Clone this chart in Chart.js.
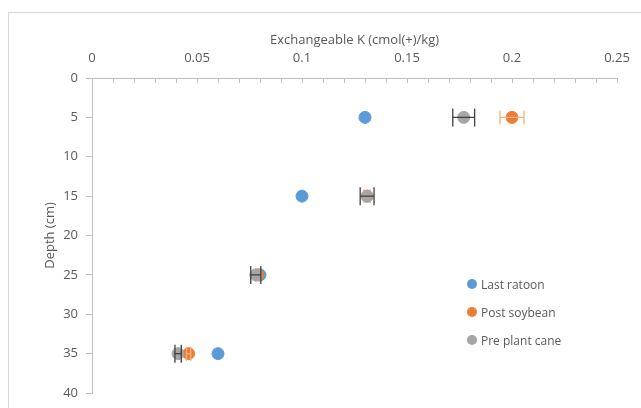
<!DOCTYPE html>
<html>
<head>
<meta charset="utf-8">
<script src="https://cdn.jsdelivr.net/npm/chart.js@4/dist/chart.umd.min.js"></script>
<style>
  html, body { margin: 0; padding: 0; background: #fff; overflow: hidden; }
  #wrap { position: relative; width: 641px; height: 408px; }
  #frame { position: absolute; left: 8px; top: 12px; width: 700px; height: 500px; border: 1px solid #d9d9d9; }
  #chart { position: absolute; left: 0; top: 0; }
  #legend { position: absolute; left: 467px; top: 274px; font: 12px "Open Sans", sans-serif; color: #595959; }
  #legend div { display: flex; align-items: center; height: 20px; margin-bottom: 8px; }
  #legend span.dot { display: inline-block; width: 10px; height: 10px; border-radius: 50%; margin-right: 4px; }
</style>
</head>
<body>
<div id="wrap">
  <div id="frame"></div>
  <canvas id="chart" width="641" height="408"></canvas>
  <div id="legend"></div>
</div>
<script>
// depth of each sample (cm)
const depths = [5, 15, 25, 35];

// exchangeable K, cmol(+)/kg
const lastRatoon = [0.130, 0.100, 0.080, 0.060];
const postSoybean = [0.200, 0.131, 0.079, 0.046];
const prePlantCane = [0.177, 0.131, 0.078, 0.041];

// horizontal error (+/-)
const postSoybeanErr = [0.0057, 0.0015, 0.001, 0.001];
const prePlantCaneErr = [0.0052, 0.0033, 0.0024, 0.0015];

const xMajorTicks = [0, 0.05, 0.1, 0.15, 0.2, 0.25];
const xTickLabels = ["0", "0.05", "0.1", "0.15", "0.2", "0.25"];
const yTicks = [0, 5, 10, 15, 20, 25, 30, 35, 40];

const toPoints = (vals) => vals.map((v, i) => ({ x: v, y: depths[i] }));

const font = { family: "'Open Sans', sans-serif", size: 13 };
const textColor = "#595959";
const axisColor = "#bfbfbf";

// draws the horizontal error bars for a dataset right after its markers
const errorBars = {
  id: "errorBars",
  afterDatasetDraw(chart, args) {
    const ds = chart.data.datasets[args.index];
    if (!ds.errors) return;
    const { ctx } = chart;
    const xs = chart.scales.x;
    const ys = chart.scales.y;
    ctx.save();
    ctx.strokeStyle = ds.errorColor;
    ctx.lineWidth = 1.3;
    ds.data.forEach((p, i) => {
      const e = ds.errors[i];
      if (!e) return;
      const x1 = xs.getPixelForValue(p.x - e);
      const x2 = xs.getPixelForValue(p.x + e);
      const yc = ys.getPixelForValue(p.y);
      const c = ds.capSize;
      ctx.beginPath();
      ctx.moveTo(x1, yc);
      ctx.lineTo(x2, yc);
      ctx.moveTo(x1, yc - c);
      ctx.lineTo(x1, yc + c);
      ctx.moveTo(x2, yc - c);
      ctx.lineTo(x2, yc + c);
      ctx.stroke();
    });
    ctx.restore();
  },
};

const datasets = [
  {
    label: "Last ratoon",
    data: toPoints(lastRatoon),
    backgroundColor: "#5B9BD5",
    borderColor: "#5B9BD5",
    pointRadius: 6,
    order: 3,
  },
  {
    label: "Post soybean",
    data: toPoints(postSoybean),
    backgroundColor: "#ED7D31",
    borderColor: "#ED7D31",
    pointRadius: 6,
    errors: postSoybeanErr,
    errorColor: "#F4B183",
    capSize: 7,
    order: 2,
  },
  {
    label: "Pre plant cane",
    data: toPoints(prePlantCane),
    backgroundColor: "#A5A5A5",
    borderColor: "#A5A5A5",
    pointRadius: 6,
    errors: prePlantCaneErr,
    errorColor: "#404040",
    capSize: 9,
    order: 1,
  },
];

new Chart(document.getElementById("chart"), {
  type: "scatter",
  data: { datasets },
  plugins: [errorBars],
  options: {
    responsive: false,
    animation: false,
    layout: { padding: { left: 0, top: 0, right: 24, bottom: 15 } },
    plugins: { legend: { display: false }, tooltip: { enabled: false } },
    scales: {
      x: {
        type: "linear",
        position: "top",
        min: 0,
        max: 0.25,
        // fixed band height; label padding must not shrink the plot width
        afterFit: (s) => { s.height = 78; s.paddingLeft = 0; s.paddingRight = 0; },
        border: { color: axisColor },
        grid: { drawOnChartArea: false, drawTicks: true, tickLength: -5, color: axisColor },
        ticks: {
          stepSize: 0.01,
          maxTicksLimit: 100,
          autoSkip: false,
          maxRotation: 0,
          padding: 17,
          color: textColor,
          font,
          callback: (value) => {
            const i = xMajorTicks.findIndex((t) => Math.abs(t - value) < 1e-9);
            return i >= 0 ? xTickLabels[i] : "";
          },
        },
        title: {
          display: true,
          text: "Exchangeable K (cmol(+)/kg)",
          color: textColor,
          font,
          padding: { top: 32, bottom: 0 },
        },
      },
      y: {
        type: "linear",
        reverse: true,
        min: 0,
        max: 40,
        afterFit: (s) => { s.width = 92; s.paddingTop = 0; s.paddingBottom = 0; },
        afterBuildTicks: (s) => { s.ticks = yTicks.map((v) => ({ value: v })); },
        border: { color: axisColor },
        grid: { drawOnChartArea: false, drawTicks: true, tickLength: 6, color: axisColor },
        ticks: { padding: 8, color: textColor, font },
        title: {
          display: true,
          text: "Depth (cm)",
          color: textColor,
          font,
          padding: { top: 42, bottom: 0 },
        },
      },
    },
  },
});

// legend built from the datasets, kept as real text
const legend = document.getElementById("legend");
datasets.forEach((ds) => {
  const row = document.createElement("div");
  const dot = document.createElement("span");
  dot.className = "dot";
  dot.style.background = ds.backgroundColor;
  row.appendChild(dot);
  row.appendChild(document.createTextNode(ds.label));
  legend.appendChild(row);
});
</script>
</body>
</html>
